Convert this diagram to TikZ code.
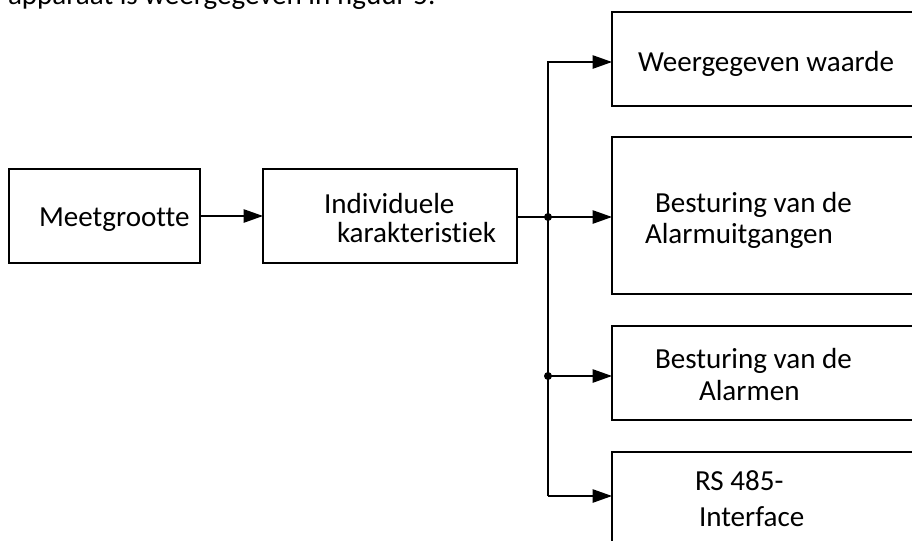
\documentclass[tikz,border=0pt]{standalone}
\usepackage{fontspec}
\setmainfont{Carlito}[Ligatures=NoCommon]
\usetikzlibrary{arrows.meta}
\begin{document}
\begin{tikzpicture}[x=0.75bp,y=-0.75bp,
  boxs/.style={draw,line width=1.1bp,rectangle,inner sep=0pt,outer sep=0pt,anchor=north west},
  lbl/.style={anchor=base west,inner sep=0pt,outer sep=0pt,font=\fontsize{21.8bp}{26bp}\selectfont},
  conn/.style={line width=1.1bp,line join=miter},
  arr/.style={conn,-{Triangle[length=14.5bp,width=10bp]}},
  dotp/.style={circle,fill=black,inner sep=0pt,minimum size=6bp}]
\useasboundingbox (0,0) rectangle (912,541);
\clip (0,0) rectangle (912,541);
\fill[white] (0,0) rectangle (912,541);
% top text line (partly cut)
\node[lbl] (top) at (8,4) {apparaat is weergegeven in figuur 5.};
% left boxes
\node[boxs,minimum width=191*0.75bp,minimum height=94*0.75bp] (m) at (9,169) {};
\node[boxs,minimum width=254*0.75bp,minimum height=94*0.75bp] (ik) at (263,169) {};
% right boxes (cut at the right edge)
\node[boxs,minimum width=330*0.75bp,minimum height=94*0.75bp] (r1) at (612,12) {};
\node[boxs,minimum width=330*0.75bp,minimum height=157*0.75bp] (r2) at (612,137) {};
\node[boxs,minimum width=330*0.75bp,minimum height=94*0.75bp] (r3) at (612,326) {};
\node[boxs,minimum width=330*0.75bp,minimum height=120*0.75bp] (r4) at (612,452) {};
% texts
\node[lbl] (tm) at (39,226) {Meetgrootte};
\node[lbl] (tik1) at (324,213) {Individuele};
\node[lbl] (tik2) at (337,242) {karakteristiek};
\node[lbl] (tr1) at (638,71) {Weergegeven waarde};
\node[lbl] (tr2a) at (655,212) {Besturing van de};
\node[lbl] (tr2b) at (645,243) {Alarmuitgangen};
\node[lbl] (tr3a) at (655,368) {Besturing van de};
\node[lbl] (tr3b) at (699,400) {Alarmen};
\node[lbl] (tr4a) at (695,490) {RS 485-};
\node[lbl] (tr4b) at (699,526) {Interface};
% bus coordinates
\coordinate (j0) at (548,62);
\coordinate (j1) at (548,217);
\coordinate (j2) at (548,376);
\coordinate (j3) at (548,496);
% connectors
\draw[arr] (m.east |- 0,216) -- (ik.west |- 0,216);
\draw[conn] (ik.east |- j1) -- (j1);
\draw[arr] (j1) -- (j1 -| r2.west);
\draw[arr] (j3) -- (j0) -- (j0 -| r1.west);
\draw[arr] (j2) -- (j2 -| r3.west);
\draw[arr] (j3) -- (j3 -| r4.west);
\node[dotp] (d1) at (j1) {};
\node[dotp] (d2) at (j2) {};
\end{tikzpicture}
\end{document}
